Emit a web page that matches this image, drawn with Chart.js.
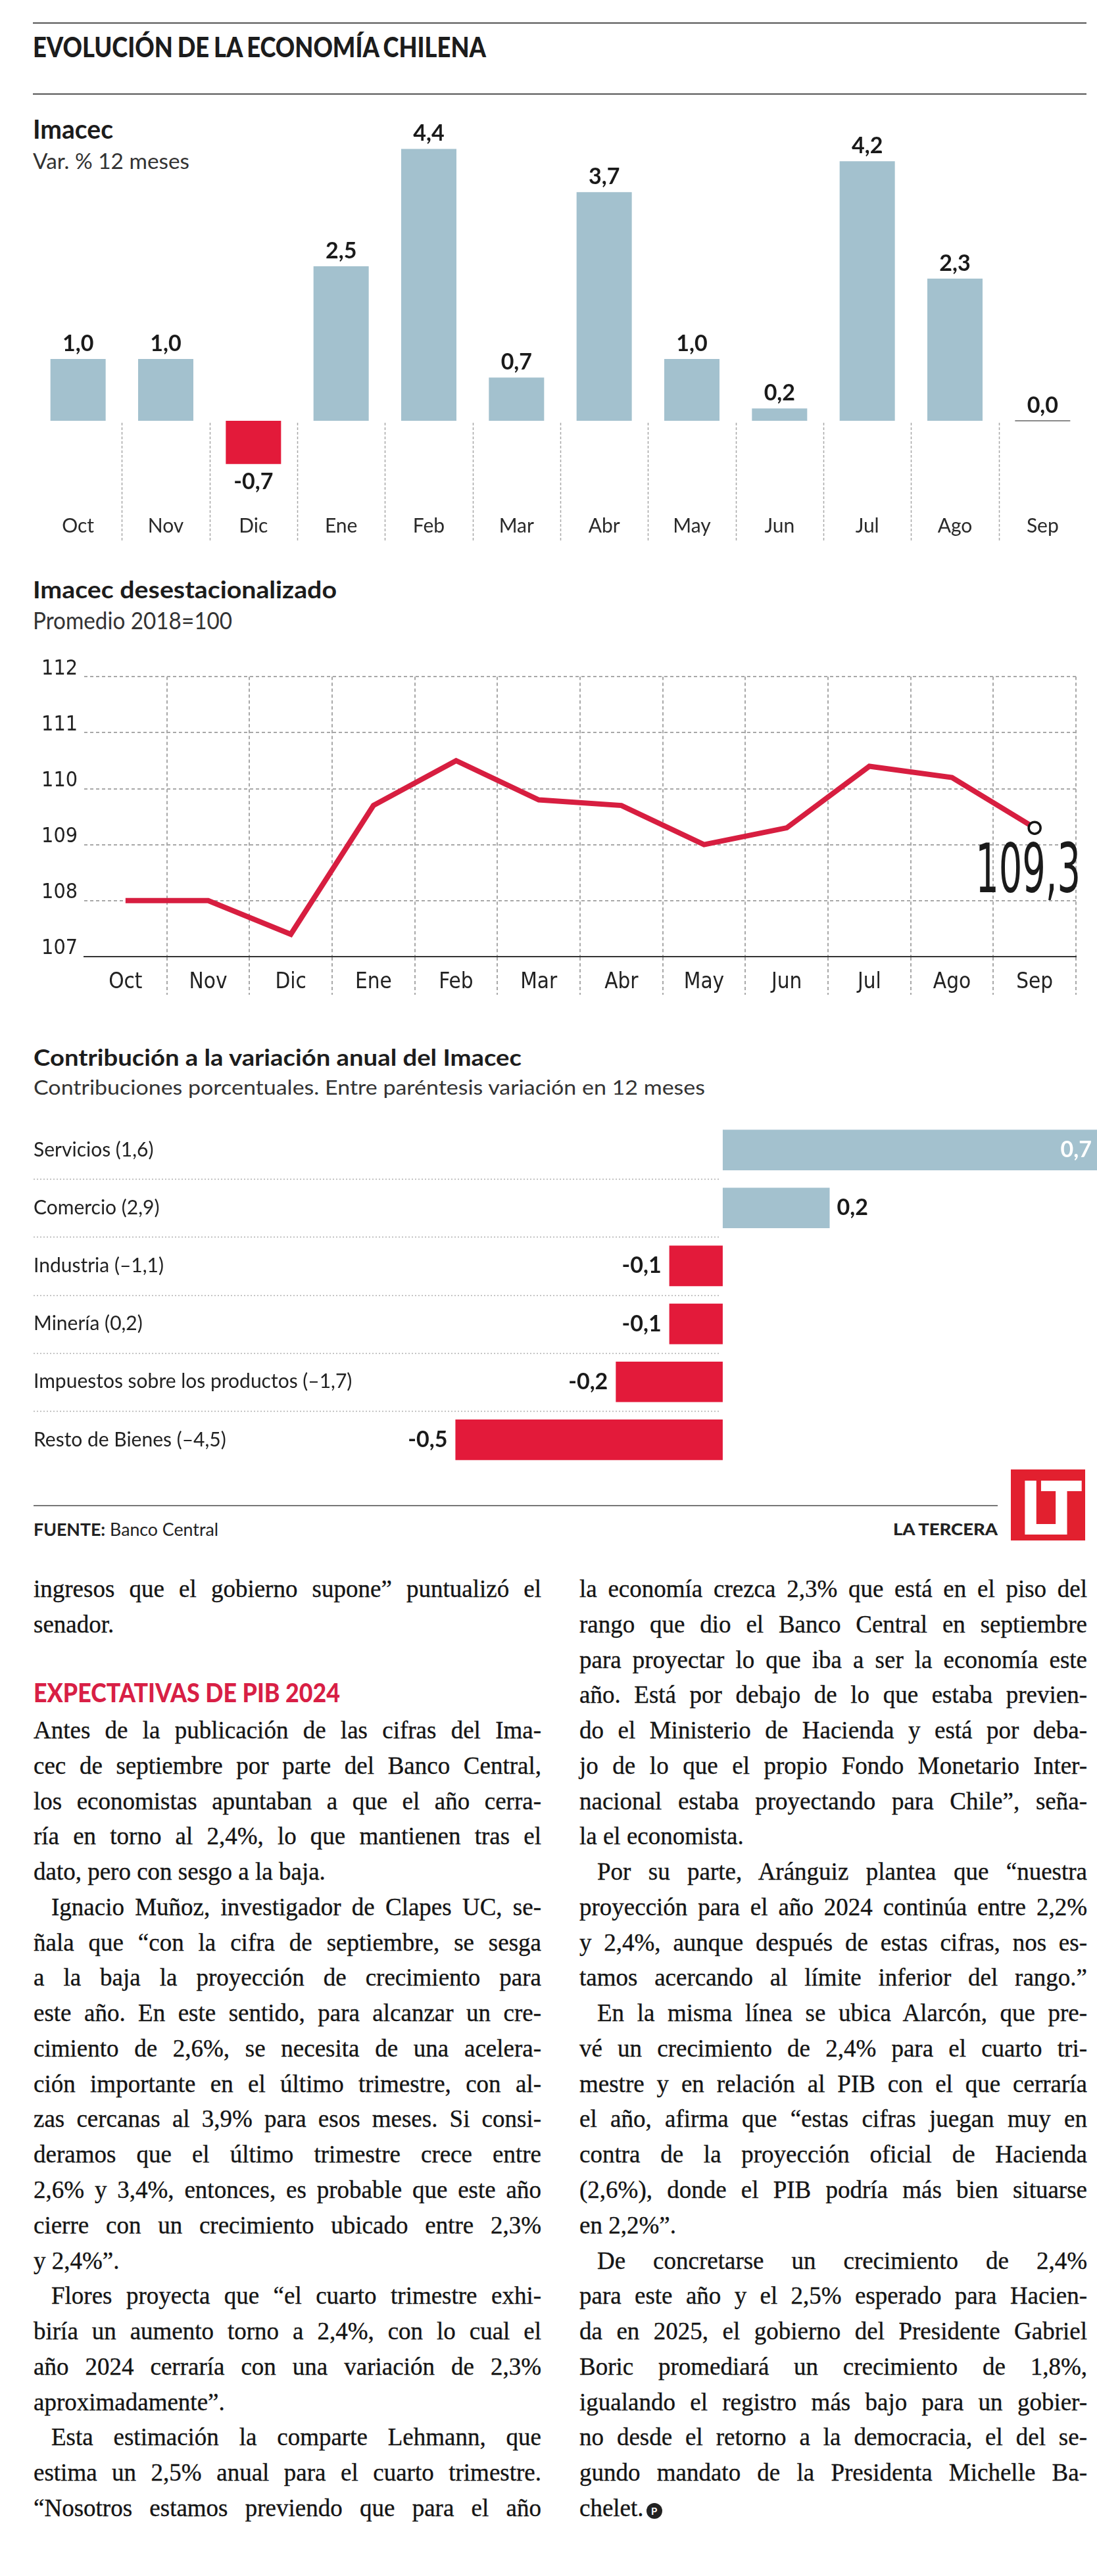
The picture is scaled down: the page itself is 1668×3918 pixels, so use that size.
<!DOCTYPE html>
<html lang="es">
<head>
<meta charset="utf-8">
<title>Evolución de la economía chilena</title>
<script src="https://cdn.jsdelivr.net/npm/chart.js@4.4.1/dist/chart.umd.min.js"></script>
<style>
  body { margin: 0; background: #fff; }
  #page { position: relative; width: 1668px; height: 3918px; overflow: hidden; color: #1c1c1c; }
  .abs { position: absolute; white-space: nowrap; line-height: 1; transform-origin: 0 0; font-family: Lato, "Open Sans", sans-serif; }
  .rule { position: absolute; height: 2px; background: #555; }
  canvas { position: absolute; }
  .col { position: absolute; width: 772px; font-family: "Liberation Serif", "DejaVu Serif", serif; font-size: 37px; line-height: 53.77px;
         color: #141414; -webkit-text-stroke: 0.35px #141414; }
  .col div { white-space: nowrap; height: 53.77px; }
  .mark { display: inline-block; width: 24px; height: 24px; border-radius: 50%; background: #222; color: #fff; -webkit-text-stroke: 0;
          font: bold 15px Lato, sans-serif; line-height: 24px; text-align: center; vertical-align: 2px; margin-left: 4px; }
</style>
</head>
<body>
<div id="page">
  <div class="rule" style="top:34px;left:50px;width:1602px"></div>
  <div class="abs" data-w="689" style="top:50px;left:50px;font-size:42px;font-weight:900;word-spacing:-2px">EVOLUCIÓN DE LA ECONOMÍA CHILENA</div>
  <div class="rule" style="top:142px;left:50px;width:1602px"></div>

  <div class="abs" data-w="122" style="top:176px;left:50px;font-size:40px;font-weight:700">Imacec</div>
  <div class="abs" data-w="238" style="top:228px;left:50px;font-size:33px;color:#333">Var. % 12 meses</div>
  <canvas id="c1" width="1600" height="680" style="left:52px;top:150px"></canvas>

  <div class="abs" data-w="462" style="top:877px;left:50px;font-size:37px;font-weight:700">Imacec desestacionalizado</div>
  <div class="abs" data-w="303" style="top:925px;left:50px;font-size:36px;color:#333">Promedio 2018=100</div>
  <canvas id="c2" width="1630" height="530" style="left:38px;top:1000px"></canvas>

  <div class="abs" data-w="742" style="top:1590px;left:51px;font-size:35px;font-weight:700">Contribución a la variación anual del Imacec</div>
  <div class="abs" data-w="1021" style="top:1638px;left:51px;font-size:30px;color:#333">Contribuciones porcentuales. Entre paréntesis variación en 12 meses</div>
  <canvas id="c3" width="1617" height="529" style="left:51px;top:1705px"></canvas>

  <div class="rule" style="top:2289px;left:51px;width:1466px;background:#777"></div>
  <div class="abs" data-w="281" style="top:2313px;left:51px;font-size:26px;color:#222"><b>FUENTE:</b> Banco Central</div>
  <div class="abs" data-w="159" style="top:2313px;left:1358px;font-size:25px;font-weight:900;color:#222">LA TERCERA</div>
  <div style="position:absolute;left:1537px;top:2235px;width:113px;height:108px;background:#e2202f"></div>
  <div class="abs" data-w="86" style="top:2239px;left:1550px;font-size:112px;font-weight:700;color:#fff;letter-spacing:-10px;font-family:'Liberation Sans Narrow','DejaVu Sans Condensed',Lato,sans-serif">LT</div>

  <div class="abs" data-w="466" style="top:2555px;left:51px;font-size:39px;font-weight:900;color:#d81f45">EXPECTATIVAS DE PIB 2024</div>
  <div class="col" id="col1" style="left:51px;top:2390px"></div>
  <div class="col" id="col2" style="left:881px;top:2390px"></div>
</div>

<script>
const months = ['Oct', 'Nov', 'Dic', 'Ene', 'Feb', 'Mar', 'Abr', 'May', 'Jun', 'Jul', 'Ago', 'Sep'];
const imacecVar = [1.0, 1.0, -0.7, 2.5, 4.4, 0.7, 3.7, 1.0, 0.2, 4.2, 2.3, 0.0];
const imacecSA = [108.0, 108.0, 107.4, 109.7, 110.5, 109.8, 109.7, 109.0, 109.3, 110.4, 110.2, 109.3];
const saTicks = [107, 108, 109, 110, 111, 112];
const sectors = ['Servicios (1,6)', 'Comercio (2,9)', 'Industria (–1,1)', 'Minería (0,2)',
  'Impuestos sobre los productos (–1,7)', 'Resto de Bienes (–4,5)'];
const contrib = [0.7, 0.2, -0.1, -0.1, -0.2, -0.5];

const col1 = [
  'ingresos que el gobierno supone” puntualizó el',
  'senador.|',
  '|',
  '|',
  'Antes de la publicación de las cifras del Ima-',
  'cec de septiembre por parte del Banco Central,',
  'los economistas apuntaban a que el año cerra-',
  'ría en torno al 2,4%, lo que mantienen tras el',
  'dato, pero con sesgo a la baja.|',
  '>Ignacio Muñoz, investigador de Clapes UC, se-',
  'ñala que “con la cifra de septiembre, se sesga',
  'a la baja la proyección de crecimiento para',
  'este año. En este sentido, para alcanzar un cre-',
  'cimiento de 2,6%, se necesita de una acelera-',
  'ción importante en el último trimestre, con al-',
  'zas cercanas al 3,9% para esos meses. Si consi-',
  'deramos que el último trimestre crece entre',
  '2,6% y 3,4%, entonces, es probable que este año',
  'cierre con un crecimiento ubicado entre 2,3%',
  'y 2,4%”.|',
  '>Flores proyecta que “el cuarto trimestre exhi-',
  'biría un aumento torno a 2,4%, con lo cual el',
  'año 2024 cerraría con una variación de 2,3%',
  'aproximadamente”.|',
  '>Esta estimación la comparte Lehmann, que',
  'estima un 2,5% anual para el cuarto trimestre.',
  '“Nosotros estamos previendo que para el año'
];
const col2 = [
  'la economía crezca 2,3% que está en el piso del',
  'rango que dio el Banco Central en septiembre',
  'para proyectar lo que iba a ser la economía este',
  'año. Está por debajo de lo que estaba previen-',
  'do el Ministerio de Hacienda y está por deba-',
  'jo de lo que el propio Fondo Monetario Inter-',
  'nacional estaba proyectando para Chile”, seña-',
  'la el economista.|',
  '>Por su parte, Aránguiz plantea que “nuestra',
  'proyección para el año 2024 continúa entre 2,2%',
  'y 2,4%, aunque después de estas cifras, nos es-',
  'tamos acercando al límite inferior del rango.”',
  '>En la misma línea se ubica Alarcón, que pre-',
  'vé un crecimiento de 2,4% para el cuarto tri-',
  'mestre y en relación al PIB con el que cerraría',
  'el año, afirma que “estas cifras juegan muy en',
  'contra de la proyección oficial de Hacienda',
  '(2,6%), donde el PIB podría más bien situarse',
  'en 2,2%”.|',
  '>De concretarse un crecimiento de 2,4%',
  'para este año y el 2,5% esperado para Hacien-',
  'da en 2025, el gobierno del Presidente Gabriel',
  'Boric promediará un crecimiento de 1,8%,',
  'igualando el registro más bajo para un gobier-',
  'no desde el retorno a la democracia, el del se-',
  'gundo mandato de la Presidenta Michelle Ba-',
  'chelet.|'
];

const SANS = 'Lato, "Open Sans", sans-serif';
const NARROW = '"Liberation Sans Narrow", "DejaVu Sans Condensed", Lato, sans-serif';
const BLUE = '#a3c1ce';
const RED = '#e31a3a';
const LINE_RED = '#d71e40';
const GRID = '#a8a8a8';
const fmt = v => v.toFixed(1).replace('.', ',');

// --- Imacec var. 12 meses ---
const barLabels = {
  id: 'barLabels',
  afterDatasetsDraw(chart) {
    const { ctx, chartArea, scales: { x, y } } = chart;
    const bars = chart.getDatasetMeta(0).data;
    const zero = y.getPixelForValue(0);
    ctx.save();
    ctx.strokeStyle = GRID;
    ctx.lineWidth = 1.5;
    ctx.setLineDash([4, 3]);
    for (let i = 1; i < months.length; i++) {
      const bx = Math.round((x.getPixelForValue(i - 1) + x.getPixelForValue(i)) / 2) + 0.5;
      ctx.beginPath();
      ctx.moveTo(bx, zero + 3);
      ctx.lineTo(bx, chartArea.bottom - 6);
      ctx.stroke();
    }
    ctx.setLineDash([]);
    ctx.textAlign = 'center';
    ctx.textBaseline = 'middle';
    ctx.fillStyle = '#2a2a2a';
    ctx.font = '30px ' + SANS;
    months.forEach((m, i) => ctx.fillText(m, x.getPixelForValue(i), chartArea.bottom - 30));
    ctx.font = 'bold 34px ' + SANS;
    ctx.fillStyle = '#1a1a1a';
    imacecVar.forEach((v, i) => {
      const b = bars[i];
      if (v === 0) {
        ctx.strokeStyle = '#8a8a8a';
        ctx.lineWidth = 2;
        ctx.beginPath();
        ctx.moveTo(b.x - b.width / 2, zero);
        ctx.lineTo(b.x + b.width / 2, zero);
        ctx.stroke();
      }
      ctx.fillText(fmt(v), b.x, v < 0 ? b.y + 27 : b.y - 23);
    });
    ctx.restore();
  }
};

new Chart(document.getElementById('c1'), {
  type: 'bar',
  data: {
    labels: months,
    datasets: [{
      data: imacecVar,
      backgroundColor: imacecVar.map(v => (v < 0 ? RED : BLUE)),
      barPercentage: 0.63,
      categoryPercentage: 1
    }]
  },
  options: {
    responsive: false,
    animation: false,
    layout: { padding: 0 },
    plugins: { legend: { display: false }, tooltip: { enabled: false } },
    scales: {
      x: { display: false },
      y: { display: false, min: -2.021, max: 5.213 }
    }
  },
  plugins: [barLabels]
});

// --- Imacec desestacionalizado ---
const lastIdx = imacecSA.length - 1;
const lastLabel = {
  id: 'lastLabel',
  afterDatasetsDraw(chart) {
    const pt = chart.getDatasetMeta(0).data[lastIdx];
    const ctx = chart.ctx;
    const txt = fmt(imacecSA[lastIdx]);
    ctx.save();
    ctx.font = '104px ' + NARROW;
    const w = ctx.measureText(txt).width;
    ctx.translate(pt.x - 10, pt.y + 98);
    ctx.scale(160 / w, 1);
    ctx.textAlign = 'center';
    ctx.textBaseline = 'alphabetic';
    ctx.fillStyle = '#1a1a1a';
    ctx.fillText(txt, 0, 0);
    ctx.restore();
  }
};

new Chart(document.getElementById('c2'), {
  type: 'line',
  data: {
    labels: months,
    datasets: [{
      data: imacecSA,
      borderColor: LINE_RED,
      borderWidth: 8,
      tension: 0,
      pointRadius: c => (c.dataIndex === lastIdx ? 9 : 0),
      pointBackgroundColor: '#fff',
      pointBorderColor: '#151515',
      pointBorderWidth: 3.5
    }]
  },
  options: {
    responsive: false,
    animation: false,
    layout: { padding: { top: 20, right: 32, left: 0, bottom: 0 } },
    plugins: { legend: { display: false }, tooltip: { enabled: false } },
    scales: {
      x: {
        offset: true,
        grid: {
          offset: true,
          lineWidth: 2,
          tickLength: 58,
          tickBorderDash: [5, 4],
          color: c => (c.index === 0 || c.index === months.length ? 'rgba(0,0,0,0)' : GRID)
        },
        border: { display: true, color: '#333', width: 2, dash: [5, 4] },
        ticks: { font: { family: NARROW, size: 33 }, color: '#222', padding: -38 },
        afterFit: s => { s.height = 75; }
      },
      y: {
        min: saTicks[0],
        max: saTicks[saTicks.length - 1],
        afterBuildTicks: s => { s.ticks = saTicks.map(v => ({ value: v })); },
        grid: {
          drawTicks: false,
          lineWidth: 2,
          color: c => (c.tick && c.tick.value === saTicks[0] ? 'rgba(0,0,0,0)' : GRID)
        },
        border: { display: false, dash: [5, 4] },
        ticks: { font: { family: NARROW, size: 32 }, color: '#222', padding: 10, labelOffset: -12 },
        afterFit: s => { s.width = 90; }
      }
    }
  },
  plugins: [lastLabel]
});

// --- Contribución a la variación anual ---
const contribLabels = {
  id: 'contribLabels',
  afterDatasetsDraw(chart) {
    const { ctx, chartArea, scales: { x, y } } = chart;
    const bars = chart.getDatasetMeta(0).data;
    const zero = x.getPixelForValue(0);
    ctx.save();
    ctx.strokeStyle = '#b0b0b0';
    ctx.lineWidth = 1.5;
    ctx.setLineDash([2, 3]);
    for (let i = 1; i < sectors.length; i++) {
      const by = Math.round((y.getPixelForValue(i - 1) + y.getPixelForValue(i)) / 2) + 0.5;
      ctx.beginPath();
      ctx.moveTo(chartArea.left, by);
      ctx.lineTo(zero - 4, by);
      ctx.stroke();
    }
    ctx.textBaseline = 'middle';
    ctx.textAlign = 'left';
    ctx.font = '30px ' + SANS;
    ctx.fillStyle = '#222';
    sectors.forEach((s, i) => ctx.fillText(s, chartArea.left, y.getPixelForValue(i)));
    ctx.font = 'bold 34px ' + SANS;
    contrib.forEach((v, i) => {
      const b = bars[i];
      const t = fmt(v);
      if (v < 0) {
        ctx.textAlign = 'right';
        ctx.fillStyle = '#1a1a1a';
        ctx.fillText(t, b.x - 12, b.y);
      } else if (b.x + 12 + ctx.measureText(t).width > chartArea.right) {
        ctx.textAlign = 'right';
        ctx.fillStyle = '#fff';
        ctx.fillText(t, b.x - 8, b.y);
      } else {
        ctx.textAlign = 'left';
        ctx.fillStyle = '#1a1a1a';
        ctx.fillText(t, b.x + 11, b.y);
      }
    });
    ctx.restore();
  }
};

new Chart(document.getElementById('c3'), {
  type: 'bar',
  data: {
    labels: sectors,
    datasets: [{
      data: contrib,
      backgroundColor: contrib.map(v => (v < 0 ? RED : BLUE)),
      barPercentage: 0.7,
      categoryPercentage: 1
    }]
  },
  options: {
    indexAxis: 'y',
    responsive: false,
    animation: false,
    layout: { padding: 0 },
    plugins: { legend: { display: false }, tooltip: { enabled: false } },
    scales: {
      x: { display: false, min: -1.289, max: 0.7 },
      y: { display: false }
    }
  },
  plugins: [contribLabels]
});

// --- text: fit widths and justified article columns ---
document.querySelectorAll('[data-w]').forEach(el => {
  el.style.display = 'inline-block';
  const w = el.getBoundingClientRect().width;
  if (w > 0) el.style.transform = 'scaleX(' + (+el.dataset.w / w) + ')';
});

function fillColumn(id, lines) {
  const col = document.getElementById(id);
  const width = 772;
  lines.forEach((raw, i) => {
    let txt = raw;
    const indent = txt.startsWith('>');
    const last = txt.endsWith('|');
    if (indent) txt = txt.slice(1);
    if (last) txt = txt.slice(0, -1);
    const row = document.createElement('div');
    const span = document.createElement('span');
    span.textContent = txt;
    if (indent) row.style.paddingLeft = '27px';
    row.appendChild(span);
    if (i === lines.length - 1 && id === 'col2') {
      const m = document.createElement('span');
      m.className = 'mark';
      m.textContent = 'P';
      row.appendChild(m);
    }
    col.appendChild(row);
    if (!txt) return;
    const avail = width - (indent ? 27 : 0);
    const w = span.getBoundingClientRect().width;
    const spaces = (txt.match(/ /g) || []).length;
    if (w > avail) {
      span.style.letterSpacing = ((avail - w) / txt.length) + 'px';
    } else if (!last && spaces > 0) {
      span.style.wordSpacing = ((avail - w) / spaces) + 'px';
    }
  });
}
fillColumn('col1', col1);
fillColumn('col2', col2);
</script>
</body>
</html>
